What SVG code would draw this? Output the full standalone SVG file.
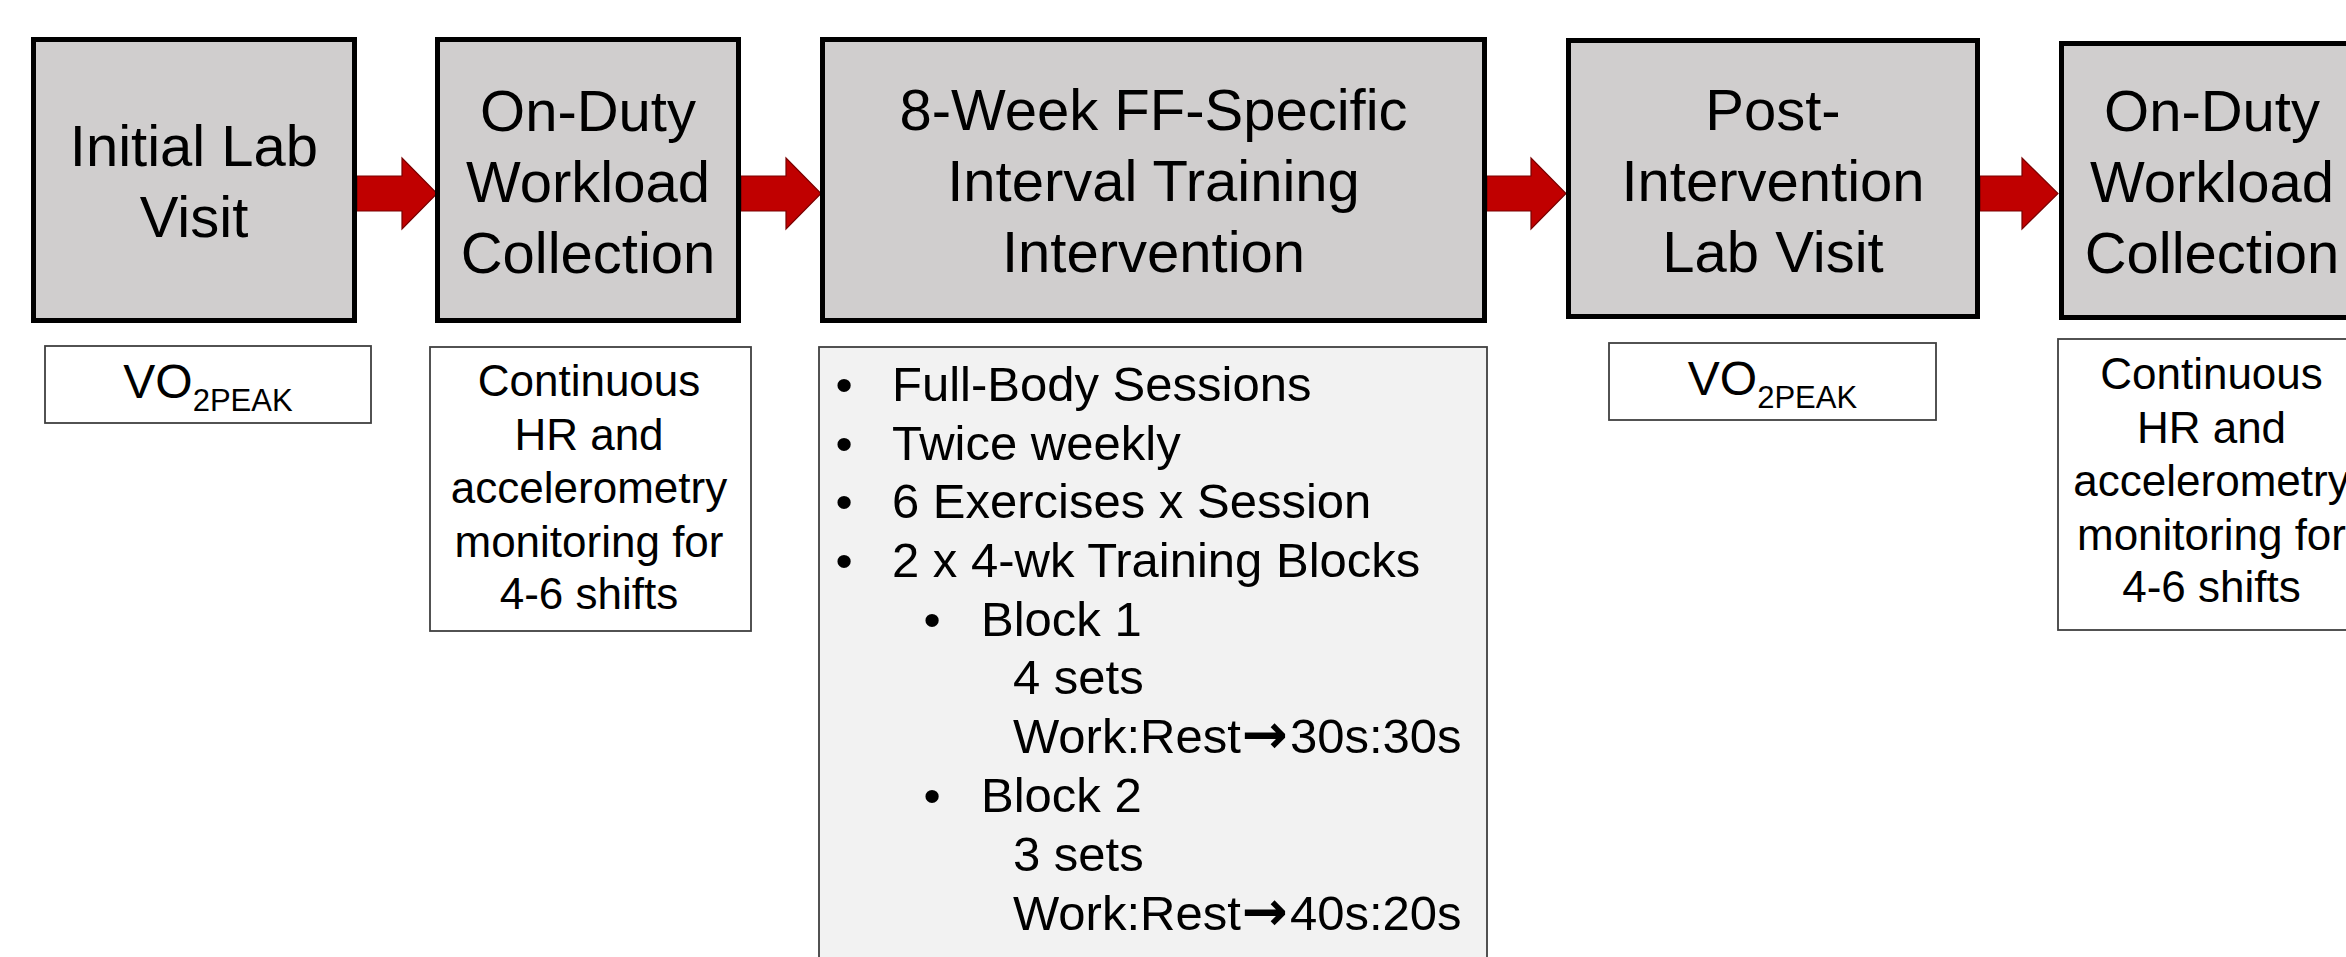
<svg xmlns="http://www.w3.org/2000/svg" width="2346" height="957" viewBox="0 0 2346 957">
  <style>
    .stage { fill: #d0cece; stroke: #000000; stroke-width: 5; }
    .note { fill: #ffffff; stroke: #404040; stroke-width: 1.8; }
    .list { fill: #f2f2f2; stroke: #404040; stroke-width: 1.8; }
    .big { font-family: "Liberation Sans", Arial, sans-serif; font-size: 58px; fill: #000000; text-anchor: middle; }
    .small { font-family: "Liberation Sans", Arial, sans-serif; font-size: 44px; fill: #000000; text-anchor: middle; }
    .vo { font-family: "Liberation Sans", Arial, sans-serif; font-size: 48px; fill: #000000; text-anchor: middle; }
    .sub { font-size: 31px; }
    .blt { font-family: "Liberation Sans", Arial, sans-serif; font-size: 49px; fill: #000000; }
    .ar { font-family: "DejaVu Sans", sans-serif; font-weight: bold; font-size: 55px; }
    .arrow { fill: #c00000; stroke: #7a0000; stroke-width: 1.2; }
  </style>
  <rect width="2346" height="957" fill="#ffffff"/>

  <g id="connectors">
    <path class="arrow" d="M357,176 H402 V158 L437,193.5 L402,229 V211 H357 Z"/>
    <path class="arrow" d="M741,176 H786 V158 L821,193.5 L786,229 V211 H741 Z"/>
    <path class="arrow" d="M1487,176 H1531 V158 L1566,193.5 L1531,229 V211 H1487 Z"/>
    <path class="arrow" d="M1980,176 H2022 V158 L2058,193.5 L2022,229 V211 H1980 Z"/>
  </g>

  <g id="initial-lab-visit">
    <rect class="stage" x="33.5" y="39.5" width="321" height="281"/>
    <text class="big" x="194" y="166">Initial Lab</text>
    <text class="big" x="194" y="237">Visit</text>
  </g>

  <g id="on-duty-1">
    <rect class="stage" x="437.5" y="39.5" width="301" height="281"/>
    <text class="big" x="588" y="131">On-Duty</text>
    <text class="big" x="588" y="202">Workload</text>
    <text class="big" x="588" y="273">Collection</text>
  </g>

  <g id="intervention">
    <rect class="stage" x="822.5" y="39.5" width="662" height="281"/>
    <text class="big" x="1153.5" y="130">8-Week FF-Specific</text>
    <text class="big" x="1153.5" y="201">Interval Training</text>
    <text class="big" x="1153.5" y="272">Intervention</text>
  </g>

  <g id="post-lab-visit">
    <rect class="stage" x="1568.5" y="40.5" width="409" height="276"/>
    <text class="big" x="1773" y="130">Post-</text>
    <text class="big" x="1773" y="201">Intervention</text>
    <text class="big" x="1773" y="272">Lab Visit</text>
  </g>

  <g id="on-duty-2">
    <rect class="stage" x="2061.5" y="43.5" width="302" height="274"/>
    <text class="big" x="2212" y="131">On-Duty</text>
    <text class="big" x="2212" y="202">Workload</text>
    <text class="big" x="2212" y="273">Collection</text>
  </g>

  <g id="vo2-1">
    <rect class="note" x="45" y="346" width="326" height="77"/>
    <text class="vo" x="208" y="398">VO<tspan class="sub" dy="13">2PEAK</tspan></text>
  </g>

  <g id="monitoring-1">
    <rect class="note" x="430" y="347" width="321" height="284"/>
    <text class="small" x="589" y="396">Continuous</text>
    <text class="small" x="589" y="450">HR and</text>
    <text class="small" x="589" y="503">accelerometry</text>
    <text class="small" x="589" y="557">monitoring for</text>
    <text class="small" x="589" y="609">4-6 shifts</text>
  </g>

  <g id="training-details">
    <rect class="list" x="819" y="347" width="668" height="640"/>
    <text class="blt" x="844" y="401" text-anchor="middle">•</text>
    <text class="blt" x="892" y="401">Full-Body Sessions</text>
    <text class="blt" x="844" y="460" text-anchor="middle">•</text>
    <text class="blt" x="892" y="460">Twice weekly</text>
    <text class="blt" x="844" y="518" text-anchor="middle">•</text>
    <text class="blt" x="892" y="518">6 Exercises x Session</text>
    <text class="blt" x="844" y="577" text-anchor="middle">•</text>
    <text class="blt" x="892" y="577">2 x 4-wk Training Blocks</text>
    <text class="blt" x="932" y="636" text-anchor="middle">•</text>
    <text class="blt" x="981" y="636">Block 1</text>
    <text class="blt" x="1013" y="694">4 sets</text>
    <text class="blt" x="1013" y="753">Work:Rest<tspan class="ar" dx="1">→</tspan><tspan dx="2">30s:30s</tspan></text>
    <text class="blt" x="932" y="812" text-anchor="middle">•</text>
    <text class="blt" x="981" y="812">Block 2</text>
    <text class="blt" x="1013" y="871">3 sets</text>
    <text class="blt" x="1013" y="930">Work:Rest<tspan class="ar" dx="1">→</tspan><tspan dx="2">40s:20s</tspan></text>
  </g>

  <g id="vo2-2">
    <rect class="note" x="1609" y="343" width="327" height="77"/>
    <text class="vo" x="1772.5" y="395">VO<tspan class="sub" dy="13">2PEAK</tspan></text>
  </g>

  <g id="monitoring-2">
    <rect class="note" x="2058" y="339" width="310" height="291"/>
    <text class="small" x="2211.5" y="389">Continuous</text>
    <text class="small" x="2211.5" y="443">HR and</text>
    <text class="small" x="2211.5" y="496">accelerometry</text>
    <text class="small" x="2211.5" y="550">monitoring for</text>
    <text class="small" x="2211.5" y="602">4-6 shifts</text>
  </g>
</svg>
